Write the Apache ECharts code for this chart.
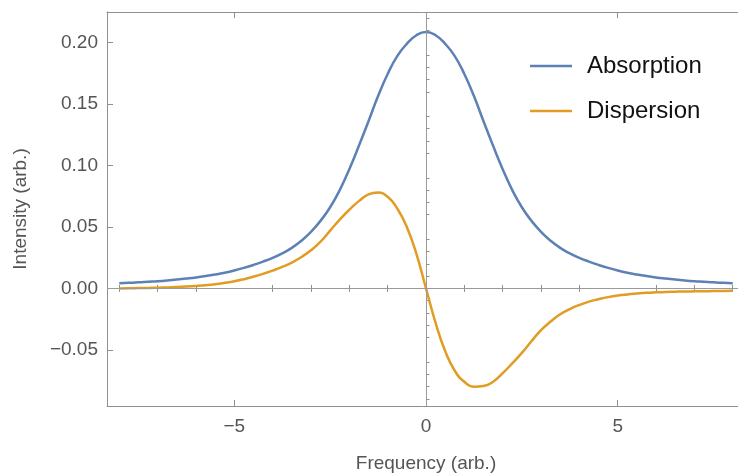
<!DOCTYPE html>
<html>
<head>
<meta charset="utf-8">
<script src="https://cdn.jsdelivr.net/npm/echarts@6/dist/echarts.min.js"></script>
<style>
  html, body { margin: 0; padding: 0; background: #ffffff; }
  #chart { width: 738px; height: 474px; }
</style>
</head>
<body>
<div id="chart"></div>
<script>
// Frequency samples (arb.) and the two line shapes measured at them
const frequency = [
  -8, -7.75, -7.5, -7.25, -7, -6.75, -6.5, -6.25, -6, -5.75, -5.5, -5.25, -5, -4.75, -4.5, -4.25,
  -4, -3.75, -3.5, -3.25, -3, -2.75, -2.5, -2.25, -2, -1.75, -1.5, -1.25, -1, -0.75, -0.5, -0.25,
  0, 0.25, 0.5, 0.75, 1, 1.25, 1.5, 1.75, 2, 2.25, 2.5, 2.75, 3, 3.25, 3.5, 3.75,
  4, 4.25, 4.5, 4.75, 5, 5.25, 5.5, 5.75, 6, 6.25, 6.5, 6.75, 7, 7.25, 7.5, 7.75, 8];

const absorption = [
  0.0041, 0.0045, 0.0049, 0.0054, 0.0059, 0.0065, 0.0072, 0.0080, 0.0089, 0.0100, 0.0113, 0.0128, 0.0146, 0.0167, 0.0191, 0.0218,
  0.0248, 0.0285, 0.0330, 0.0388, 0.0460, 0.0550, 0.0660, 0.0800, 0.0970, 0.1160, 0.1360, 0.1565, 0.1745, 0.1890, 0.1990, 0.2060,
  0.2086, 0.2060, 0.1990, 0.1890, 0.1745, 0.1565, 0.1360, 0.1160, 0.0970, 0.0800, 0.0660, 0.0550, 0.0460, 0.0388, 0.0330, 0.0285,
  0.0248, 0.0218, 0.0191, 0.0167, 0.0146, 0.0128, 0.0113, 0.0100, 0.0089, 0.0080, 0.0072, 0.0065, 0.0059, 0.0054, 0.0049, 0.0045, 0.0041];

const dispersion = [
  0.0000, 0.0001, 0.0003, 0.0004, 0.0006, 0.0008, 0.0011, 0.0015, 0.0020, 0.0026, 0.0034, 0.0045, 0.0058, 0.0075, 0.0095, 0.0118,
  0.0145, 0.0175, 0.0210, 0.0255, 0.0310, 0.0380, 0.0470, 0.0560, 0.0640, 0.0710, 0.0765, 0.0780, 0.0745, 0.0650, 0.0500, 0.0280,
  0.0000, -0.0280, -0.0510, -0.0670, -0.0760, -0.0800, -0.0795, -0.0760, -0.0690, -0.0610, -0.0525, -0.0430, -0.0340, -0.0270, -0.0210, -0.0168,
  -0.0135, -0.0108, -0.0088, -0.0071, -0.0058, -0.0049, -0.0042, -0.0036, -0.0032, -0.0029, -0.0027, -0.0025, -0.0024, -0.0023, -0.0022, -0.0021, -0.0020];

// Axis ranges and tick positions
const xRange = [-8.32, 8.32];
const yRange = [-0.0957, 0.2249];
const xMajorTicks = [-5, 0, 5];
const xMinorTicks = [-8, -7, -6, -4, -3, -2, -1, 1, 2, 3, 4, 6, 7, 8];
const yMajorTicks = [-0.05, 0, 0.05, 0.10, 0.15, 0.20];
const yMinorTicks = [-0.09, -0.08, -0.07, -0.06, -0.04, -0.03, -0.02, -0.01, 0.01, 0.02, 0.03, 0.04,
  0.06, 0.07, 0.08, 0.09, 0.11, 0.12, 0.13, 0.14, 0.16, 0.17, 0.18, 0.19, 0.21, 0.22];

const FONT = '"Liberation Sans", Arial, Helvetica, sans-serif';
const FRAME = '#8f8f8f';
const LABEL = '#555555';

const minus = s => String(s).replace('-', '\u2212');

function pairs(ys) { return frequency.map((x, i) => [x, ys[i]]); }

function xAxisDef(position, ticks, len, opts) {
  return Object.assign({
    type: 'value', position: position, min: xRange[0], max: xRange[1],
    axisLine: { show: true, onZero: false, lineStyle: { color: FRAME, width: 1 } },
    axisTick: { show: true, inside: true, length: len, customValues: ticks, lineStyle: { color: FRAME, width: 1 } },
    axisLabel: { show: false },
    splitLine: { show: false }
  }, opts || {});
}

function yAxisDef(ticks, len, opts) {
  return Object.assign({
    type: 'value', position: 'left', min: yRange[0], max: yRange[1],
    axisLine: { show: true, onZero: false, lineStyle: { color: FRAME, width: 1 } },
    axisTick: { show: true, inside: true, length: len, customValues: ticks, lineStyle: { color: FRAME, width: 1 } },
    axisLabel: { show: false },
    splitLine: { show: false }
  }, opts || {});
}

const chart = echarts.init(document.getElementById('chart'), null, { renderer: 'canvas' });

chart.setOption({
  animation: false,
  backgroundColor: '#ffffff',
  // the frame runs a little past the right edge of the canvas
  grid: { left: 107, top: 12, width: 638, height: 394, containLabel: false, outerBoundsMode: 'none' },
  legend: {
    data: ['Absorption', 'Dispersion'],
    orient: 'vertical',
    left: 525, top: 47,
    icon: 'rect',
    itemWidth: 42, itemHeight: 2.5,
    itemGap: 17,
    textStyle: { fontFamily: FONT, fontSize: 24, color: '#111111', lineHeight: 28, padding: [0, 0, 0, 10] }
  },
  xAxis: [
    xAxisDef('bottom', xMajorTicks, 6, {
      axisLabel: {
        show: true, customValues: xMajorTicks, margin: 11,
        fontFamily: FONT, fontSize: 19, color: LABEL,
        formatter: v => minus(v)
      },
      name: 'Frequency (arb.)', nameLocation: 'middle', nameGap: 48,
      nameTextStyle: { fontFamily: FONT, fontSize: 19, color: LABEL }
    }),
    xAxisDef('bottom', xMinorTicks, 3.5, { axisLine: { show: false } }),
    xAxisDef('top', xMajorTicks, 6),
    xAxisDef('top', xMinorTicks, 3.5, { axisLine: { show: false } })
  ],
  yAxis: [
    yAxisDef(yMajorTicks, 6, {
      axisLabel: {
        show: true, customValues: yMajorTicks, margin: 9,
        fontFamily: FONT, fontSize: 19, color: LABEL,
        formatter: v => minus(v.toFixed(2))
      },
      name: 'Intensity (arb.)', nameLocation: 'middle', nameGap: 77, nameRotate: 90,
      nameTextStyle: { fontFamily: FONT, fontSize: 19, color: LABEL }
    }),
    yAxisDef(yMinorTicks, 3.5, { axisLine: { show: false } })
  ],
  series: [
    {
      // zero lines through the origin
      name: 'axes', type: 'line', data: [], z: 1, silent: true,
      markLine: {
        silent: true, symbol: 'none', animation: false,
        label: { show: false },
        lineStyle: { color: '#9a9a9a', width: 1, type: 'solid' },
        data: [{ xAxis: 0 }, { yAxis: 0 }]
      }
    },
    {
      name: 'Absorption', type: 'line', data: pairs(absorption), z: 3,
      showSymbol: false, smooth: 0.5,
      lineStyle: { color: '#5e81b5', width: 2.5 }, itemStyle: { color: '#5e81b5' }
    },
    {
      name: 'Dispersion', type: 'line', data: pairs(dispersion), z: 2,
      showSymbol: false, smooth: 0.5,
      lineStyle: { color: '#e19c24', width: 2.5 }, itemStyle: { color: '#e19c24' }
    }
  ]
});
</script>
</body>
</html>
